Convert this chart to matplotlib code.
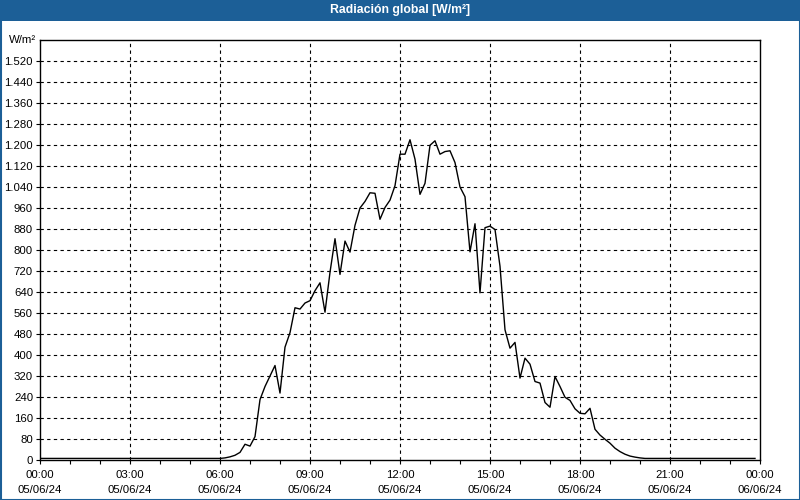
import numpy as np
import matplotlib
matplotlib.use("Agg")
import matplotlib.pyplot as plt
import matplotlib.patches as mpatches
import matplotlib.transforms as mtransforms

# radiacion global cada 10 minutos, 05/06/24 00:00 -> 23:50 (W/m2)
madrugada = [6, 6, 6, 6, 6, 6, 6, 6, 6, 6, 6, 6,
             6, 6, 6, 6, 6, 6, 6, 6, 6, 6, 6, 6,
             6, 6, 6, 6, 6, 6, 6, 6, 6, 6, 6, 6]
dia = [6, 8, 12, 18, 29, 60, 53, 89, 230, 280, 320, 360,
       255, 430, 485, 580, 575, 598, 607, 645, 675, 563, 715, 843,
       707, 834, 792, 894, 960, 985, 1018, 1016, 917, 962, 990, 1045,
       1165, 1165, 1220, 1146, 1012, 1054, 1199, 1216, 1165, 1175, 1178, 1133,
       1040, 1003, 793, 900, 637, 885, 891, 878, 738, 496, 426, 448,
       312, 388, 365, 299, 293, 219, 201, 318, 280, 239, 227, 195,
       178, 176, 197, 117, 95, 79, 64, 45, 32, 22, 15, 11]
noche = [8, 6, 6, 6, 6, 6, 6, 6, 6, 6, 6, 6,
         6, 6, 6, 6, 6, 6, 6, 6, 6, 6, 6, 6]
radiacion = madrugada + dia + noche
horas = np.arange(len(radiacion)) / 6.0

ticks_x = [0, 3, 6, 9, 12, 15, 18, 21, 24]
etiquetas_x = ["00:00\n05/06/24", "03:00\n05/06/24", "06:00\n05/06/24",
               "09:00\n05/06/24", "12:00\n05/06/24", "15:00\n05/06/24",
               "18:00\n05/06/24", "21:00\n05/06/24", "00:00\n06/06/24"]
ticks_y = list(range(0, 1600, 80))

azul = "#1c5f97"
plt.rcParams['font.family'] = ['Liberation Sans', 'DejaVu Sans']

fig = plt.figure(figsize=(8, 5), dpi=100)
fig.patch.set_facecolor("white")
ax = fig.add_axes([40 / 800, 40 / 500, 720 / 800, 420 / 500])

# barra de titulo y marco
fig.patches.append(mpatches.Rectangle((0, 479 / 500), 1, 21 / 500, transform=fig.transFigure,
                                      facecolor=azul, edgecolor="none", zorder=0))
fig.patches.append(mpatches.Rectangle((0.5 / 800, 0.5 / 500), 799 / 800, 499 / 500,
                                      transform=fig.transFigure, facecolor="none",
                                      edgecolor=azul, linewidth=1.5, zorder=5))
fig.text(0.5, 489.5 / 500, "Radiación global [W/m²]", color="white", fontsize=8.8,
         fontweight="bold", ha="center", va="center")

ax.plot(horas, radiacion, color="black", linewidth=1, zorder=3)

ax.set_xlim(0, 24)
ax.set_ylim(0, 1600)
ax.set_xticks(ticks_x)
ax.set_xticklabels(etiquetas_x, fontsize=8.2, linespacing=1.6)
ax.set_xticks(range(25), minor=True)
ax.set_yticks(ticks_y)
ax.set_yticklabels([f"{v:,}".replace(",", ".") for v in ticks_y], fontsize=8.2)
ax.tick_params(axis="both", which="both", direction="out", length=3, width=0.8, pad=2)
ax.tick_params(axis="x", which="major", length=3, pad=4)

for x in ticks_x[1:-1]:
    ax.axvline(x, color="black", linestyle=(0, (3, 3)), linewidth=0.8, zorder=1)
for y in ticks_y[1:]:
    ax.axhline(y, color="black", linestyle=(0, (3, 3)), linewidth=0.8, zorder=1)

for s in ax.spines.values():
    s.set_color("black")
    s.set_linewidth(1)

trans = mtransforms.blended_transform_factory(ax.transAxes, ax.transData)
ax.text(-0.006, 1600, "W/m²", transform=trans, ha="right", va="center", fontsize=8.2)

fig.savefig("out.png", dpi=100, facecolor=fig.get_facecolor())
